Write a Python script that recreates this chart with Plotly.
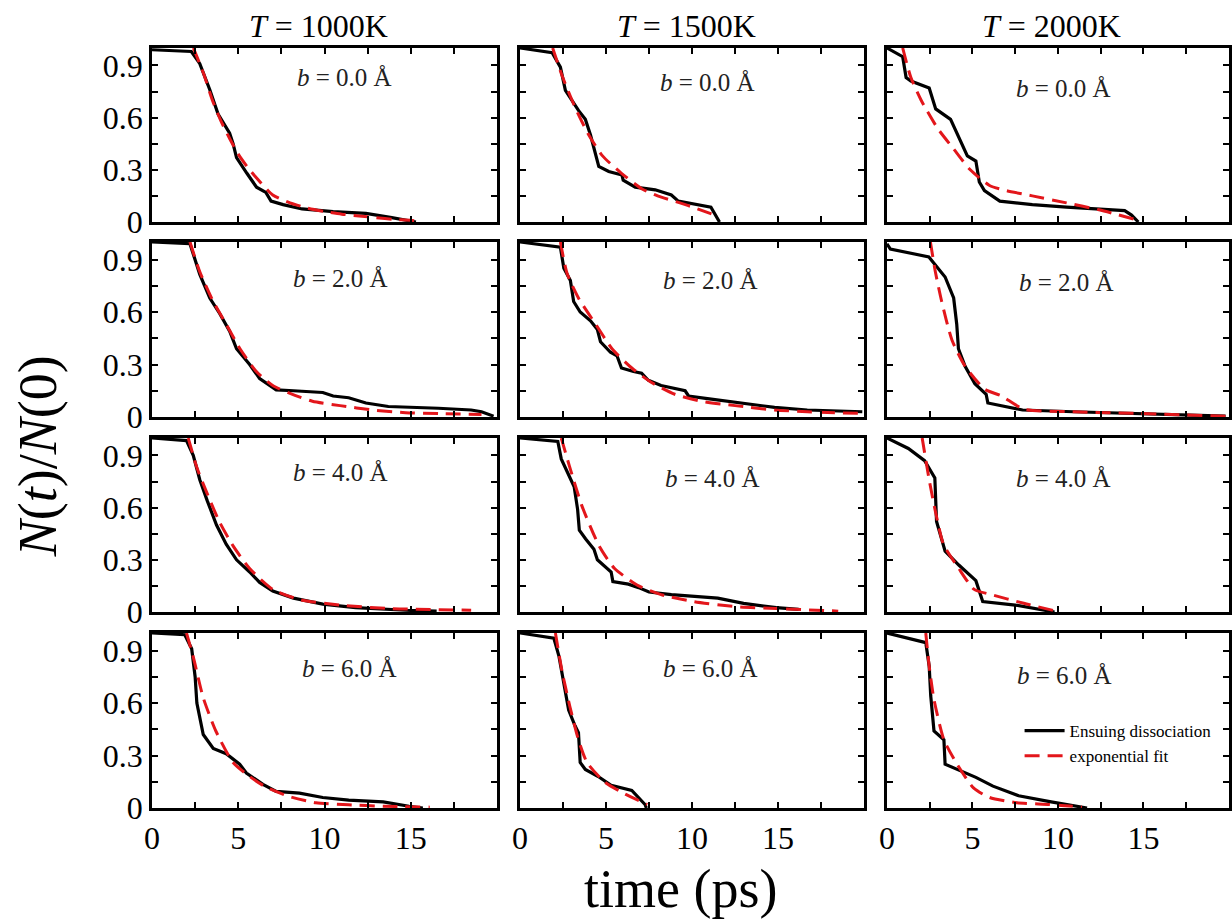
import plotly.graph_objects as go

# ---------------- data ----------------
temperatures = ["1000K", "1500K", "2000K"]
b_labels = ["0.0", "2.0", "4.0", "6.0"]

# T = 1000K
t_1000_b0 = [0, 2.28, 2.77, 3.35, 3.83, 4.5, 4.7, 4.9, 5.5, 6.06, 6.6, 6.9, 7.6, 8.7, 10.5, 12.4, 13.9, 15.1, 15.3]
n_1000_b0 = [0.99, 0.98, 0.91, 0.76, 0.62, 0.51, 0.45, 0.37, 0.28, 0.20, 0.17, 0.12, 0.10, 0.075, 0.06, 0.05, 0.025, 0.005, 0.0]
ft_1000_b0 = [2.4, 3.0, 3.5, 4.0, 4.5, 5.0, 5.5, 6.0, 7.0, 8.0, 9.0, 10, 11, 12, 13, 14, 15, 15.4]
fn_1000_b0 = [1.0, 0.85, 0.70, 0.58, 0.48, 0.39, 0.32, 0.26, 0.155, 0.11, 0.08, 0.06, 0.045, 0.035, 0.025, 0.015, 0.01, 0.005]

t_1000_b2 = [0.0, 2.2, 2.77, 3.35, 3.93, 4.5, 4.9, 5.66, 6.24, 7.2, 8.2, 9.9, 10.5, 11.4, 12.4, 13.7, 16.6, 18.5, 19.1, 19.8]
n_1000_b2 = [1.0, 0.99, 0.815, 0.68, 0.59, 0.49, 0.39, 0.30, 0.22, 0.155, 0.15, 0.14, 0.12, 0.11, 0.08, 0.06, 0.05, 0.04, 0.03, 0.005]
ft_1000_b2 = [2.2, 2.77, 3.55, 4.3, 5.1, 6.05, 7.0, 8.0, 9.3, 10.9, 12.8, 14.7, 16.6, 19.1]
fn_1000_b2 = [1.0, 0.83, 0.66, 0.53, 0.39, 0.26, 0.18, 0.135, 0.09, 0.065, 0.04, 0.025, 0.02, 0.015]

t_1000_b4 = [0, 2.0, 2.39, 2.77, 3.2, 3.74, 4.3, 4.9, 5.66, 6.24, 7.0, 8.2, 9.9, 11.8, 14.7, 16.5]
n_1000_b4 = [1.0, 0.985, 0.90, 0.76, 0.64, 0.50, 0.39, 0.30, 0.23, 0.17, 0.12, 0.08, 0.045, 0.025, 0.01, 0.005]
ft_1000_b4 = [2.1, 2.6, 3.2, 3.9, 4.7, 5.66, 7.0, 8.6, 10.9, 13.7, 18.5]
fn_1000_b4 = [1.0, 0.83, 0.68, 0.52, 0.38, 0.25, 0.13, 0.07, 0.04, 0.02, 0.01]

t_1000_b6 = [0, 1.9, 2.3, 2.5, 2.6, 2.97, 3.55, 4.3, 5.08, 5.47, 6.43, 7.2, 8.55, 9.9, 11.4, 13.4, 14.9, 15.7]
n_1000_b6 = [1.0, 0.99, 0.91, 0.75, 0.60, 0.42, 0.34, 0.31, 0.25, 0.20, 0.135, 0.095, 0.085, 0.06, 0.045, 0.035, 0.01, 0.0]
ft_1000_b6 = [2.0, 2.4, 2.97, 3.7, 4.7, 5.66, 6.6, 7.98, 9.5, 11.4, 13.4, 16.1]
fn_1000_b6 = [1.0, 0.86, 0.63, 0.44, 0.26, 0.18, 0.12, 0.065, 0.03, 0.018, 0.01, 0.005]

# T = 1500K
t_1500_b0 = [0, 1.87, 2.35, 2.64, 3.41, 3.8, 4.1, 4.39, 4.58, 5.16, 5.93, 6.0, 6.7, 7.86, 8.8, 9.2, 10.35, 11.1, 11.6]
n_1500_b0 = [1.0, 0.973, 0.89, 0.757, 0.64, 0.59, 0.50, 0.40, 0.32, 0.29, 0.27, 0.24, 0.20, 0.185, 0.155, 0.12, 0.10, 0.085, 0.0]
ft_1500_b0 = [1.9, 2.45, 3.2, 4.0, 4.8, 5.9, 7.1, 8.0, 9.3, 10.2, 11.3]
fn_1500_b0 = [1.0, 0.84, 0.66, 0.50, 0.38, 0.28, 0.19, 0.15, 0.11, 0.08, 0.04]

t_1500_b2 = [0.0, 2.35, 2.55, 2.93, 3.12, 3.5, 4.1, 4.5, 4.68, 5.26, 5.64, 5.9, 6.6, 7.07, 7.46, 8.2, 9.6, 9.8, 10.9, 12.85, 14.8, 16.7, 18.6, 19.9]
n_1500_b2 = [1.0, 0.97, 0.85, 0.78, 0.66, 0.60, 0.55, 0.50, 0.43, 0.37, 0.35, 0.28, 0.26, 0.25, 0.21, 0.18, 0.15, 0.12, 0.105, 0.08, 0.055, 0.04, 0.035, 0.03]
ft_1500_b2 = [2.35, 2.74, 3.4, 4.4, 5.35, 6.5, 7.6, 9.0, 10.55, 12.5, 14.8, 16.7, 19.9]
fn_1500_b2 = [1.0, 0.82, 0.68, 0.53, 0.39, 0.28, 0.20, 0.13, 0.09, 0.065, 0.04, 0.03, 0.02]

t_1500_b4 = [0, 2.2, 2.4, 2.77, 3.15, 3.35, 3.45, 3.82, 4.3, 4.5, 5.1, 5.3, 5.4, 6.3, 6.9, 7.5, 8.8, 11.5, 13.0, 14.9, 16.2]
n_1500_b4 = [1.0, 0.98, 0.88, 0.80, 0.72, 0.59, 0.47, 0.42, 0.36, 0.30, 0.25, 0.23, 0.175, 0.16, 0.14, 0.115, 0.10, 0.08, 0.05, 0.025, 0.015]
ft_1500_b4 = [2.4, 2.87, 3.6, 4.6, 5.5, 6.9, 8.2, 10.1, 12.6, 14.9, 18.5]
fn_1500_b4 = [1.0, 0.84, 0.61, 0.38, 0.25, 0.15, 0.10, 0.06, 0.03, 0.02, 0.005]

t_1500_b6 = [0, 1.97, 2.26, 2.55, 2.83, 3.2, 3.4, 3.5, 3.8, 4.55, 5.3, 6.5, 7.27, 7.35]
n_1500_b6 = [1.0, 0.97, 0.87, 0.71, 0.56, 0.47, 0.43, 0.26, 0.22, 0.18, 0.13, 0.10, 0.02, 0.0]
ft_1500_b6 = [2.06, 2.45, 2.9, 3.4, 3.9, 4.9, 6.1, 7.4]
fn_1500_b6 = [1.0, 0.78, 0.58, 0.39, 0.26, 0.15, 0.08, 0.02]

# T = 2000K
t_2000_b0 = [0, 0.92, 1.12, 1.4, 2.47, 2.85, 3.72, 4.2, 4.7, 5.2, 5.3, 5.4, 5.7, 6.6, 8.5, 10.5, 13.9, 14.3, 14.7]
n_2000_b0 = [1.0, 0.95, 0.83, 0.81, 0.77, 0.65, 0.59, 0.49, 0.38, 0.35, 0.30, 0.23, 0.18, 0.12, 0.10, 0.085, 0.065, 0.04, 0.0]
ft_2000_b0 = [0.92, 1.4, 2.0, 2.95, 3.9, 4.87, 6.0, 7.0, 8.5, 10.5, 12.4, 14.7]
fn_2000_b0 = [1.0, 0.83, 0.70, 0.54, 0.42, 0.30, 0.21, 0.18, 0.15, 0.11, 0.07, 0.01]

t_2000_b2 = [0.0, 0.2, 2.45, 2.83, 3.4, 3.9, 4.08, 4.18, 4.57, 5.14, 5.8, 5.9, 7.93, 10.9, 14.8, 19.8]
n_2000_b2 = [0.99, 0.96, 0.915, 0.87, 0.80, 0.68, 0.53, 0.39, 0.29, 0.19, 0.13, 0.08, 0.04, 0.03, 0.02, 0.005]
ft_2000_b2 = [2.54, 2.83, 3.2, 3.8, 4.57, 5.7, 6.7, 8.0, 10.9, 14.8, 19.8]
fn_2000_b2 = [1.0, 0.83, 0.66, 0.44, 0.29, 0.16, 0.12, 0.045, 0.03, 0.02, 0.005]

t_2000_b4 = [0, 1.25, 2.2, 2.8, 2.9, 3.4, 4.2, 5.2, 5.6, 7.5, 9.8]
n_2000_b4 = [1.0, 0.94, 0.87, 0.77, 0.52, 0.35, 0.27, 0.18, 0.06, 0.04, 0.0]
ft_2000_b4 = [2.06, 2.45, 2.83, 3.3, 4.2, 5.1, 6.1, 8.0, 9.9]
fn_2000_b4 = [1.0, 0.77, 0.58, 0.39, 0.25, 0.13, 0.10, 0.05, 0.005]

t_2000_b6 = [0, 2.27, 2.47, 2.56, 2.75, 3.33, 3.4, 4.65, 5.2, 6.2, 7.7, 9.6, 11.7]
n_2000_b6 = [1.0, 0.945, 0.81, 0.64, 0.44, 0.39, 0.25, 0.20, 0.175, 0.125, 0.07, 0.035, 0.0]
ft_2000_b6 = [2.27, 2.47, 2.75, 3.33, 4.1, 5.06, 6.0, 7.6, 9.5, 11.4]
fn_2000_b6 = [1.0, 0.81, 0.62, 0.39, 0.25, 0.115, 0.06, 0.03, 0.02, 0.005]

# panel grid: rows = impact parameter b, cols = temperature
sim_t = [[t_1000_b0, t_1500_b0, t_2000_b0],
         [t_1000_b2, t_1500_b2, t_2000_b2],
         [t_1000_b4, t_1500_b4, t_2000_b4],
         [t_1000_b6, t_1500_b6, t_2000_b6]]
sim_n = [[n_1000_b0, n_1500_b0, n_2000_b0],
         [n_1000_b2, n_1500_b2, n_2000_b2],
         [n_1000_b4, n_1500_b4, n_2000_b4],
         [n_1000_b6, n_1500_b6, n_2000_b6]]
fit_t = [[ft_1000_b0, ft_1500_b0, ft_2000_b0],
         [ft_1000_b2, ft_1500_b2, ft_2000_b2],
         [ft_1000_b4, ft_1500_b4, ft_2000_b4],
         [ft_1000_b6, ft_1500_b6, ft_2000_b6]]
fit_n = [[fn_1000_b0, fn_1500_b0, fn_2000_b0],
         [fn_1000_b2, fn_1500_b2, fn_2000_b2],
         [fn_1000_b4, fn_1500_b4, fn_2000_b4],
         [fn_1000_b6, fn_1500_b6, fn_2000_b6]]

x_ticks = [0, 5, 10, 15]
y_ticks = [0, 0.3, 0.6, 0.9]
y_ticktext = ["0", "0.3", "0.6", "0.9"]

# ---------------- layout ----------------
W, H = 1232, 921
ML, MR, MT, MB = 152, 0, 48, 113
PW, PH = W - ML - MR, H - MT - MB

col_px = [(0, 346), (369, 714), (737, 1080)]
row_px = [(0, 174), (194, 369), (390, 564), (585, 760)]
col_dom = [[a / PW, b / PW] for a, b in col_px]
row_dom = [[1 - b / PH, 1 - a / PH] for a, b in row_px]

# label positions (data coords) for the "b = ..." annotations
lab_x = [[11.15, 10.9, 10.35], [10.95, 11.1, 10.5], [10.9, 11.2, 10.3], [11.45, 11.1, 10.4]]
lab_y = [[0.83, 0.80, 0.77], [0.79, 0.78, 0.77], [0.80, 0.77, 0.77], [0.80, 0.80, 0.76]]

SERIF = "Liberation Serif"
BLACK = "#000000"
RED = "#e3161b"

fig = go.Figure()
layout = dict(
    width=W, height=H,
    margin=dict(l=ML, r=MR, t=MT, b=MB),
    paper_bgcolor="white", plot_bgcolor="white",
    font=dict(family=SERIF, color="black"),
    showlegend=True,
    legend=dict(x=(1022 - ML) / PW, y=(808 - 713) / PH, xanchor="left", yanchor="top",
                bgcolor="rgba(0,0,0,0)", font=dict(family=SERIF, size=17, color="black"),
                tracegroupgap=0, itemwidth=40),
)
annotations = []

for r in range(4):
    for c in range(3):
        k = r * 3 + c + 1
        xa = "x" if k == 1 else f"x{k}"
        ya = "y" if k == 1 else f"y{k}"
        first = (r == 3 and c == 2)
        fig.add_trace(go.Scatter(
            x=sim_t[r][c], y=sim_n[r][c], mode="lines",
            line=dict(color=BLACK, width=3.2),
            name="Ensuing dissociation", showlegend=first, legendrank=1,
            xaxis=xa, yaxis=ya))
        fig.add_trace(go.Scatter(
            x=fit_t[r][c], y=fit_n[r][c], mode="lines",
            line=dict(color=RED, width=3, dash="15px,8px", shape="spline", smoothing=0.6),
            name="exponential fit", showlegend=first, legendrank=2,
            xaxis=xa, yaxis=ya))

        axkw = dict(showline=True, linewidth=2.5, linecolor="black", mirror="ticks",
                    showgrid=False, zeroline=False, ticks="inside", ticklen=6,
                    tickwidth=1.8, tickcolor="black",
                    tickfont=dict(family=SERIF, size=32, color="black"))
        xname = "xaxis" if k == 1 else f"xaxis{k}"
        yname = "yaxis" if k == 1 else f"yaxis{k}"
        layout[xname] = dict(axkw, domain=col_dom[c], anchor=ya, range=[0, 20],
                             tickmode="array", tickvals=x_ticks,
                             showticklabels=(r == 3),
                             minor=dict(dtick=2.5, tick0=0, ticks="inside", ticklen=6,
                                        tickwidth=1.8, tickcolor="black"))
        layout[yname] = dict(axkw, domain=row_dom[r], anchor=xa, range=[0, 1.0],
                             tickmode="array", tickvals=y_ticks, ticktext=y_ticktext,
                             showticklabels=(c == 0),
                             minor=dict(dtick=0.15, tick0=0, ticks="inside", ticklen=6,
                                        tickwidth=1.8, tickcolor="black"))
        annotations.append(dict(
            x=lab_x[r][c], y=lab_y[r][c], xref=xa, yref=ya,
            text=f"<i>b</i> = {b_labels[r]} Å", showarrow=False,
            xanchor="center", yanchor="middle",
            font=dict(family=SERIF, size=25, color="#222222")))

# column titles
for c in range(3):
    annotations.append(dict(
        x=(col_dom[c][0] + col_dom[c][1]) / 2 - 6 / PW, y=1.0, xref="paper", yref="paper",
        xanchor="center", yanchor="bottom", yshift=2, showarrow=False,
        text=f"<i>T</i> = {temperatures[c]}",
        font=dict(family=SERIF, size=32, color="black")))

# axis titles
annotations.append(dict(
    x=(38 - ML) / PW, y=(808 - 456) / PH, xref="paper", yref="paper",
    text="<i>N</i>(<i>t</i>)/<i>N</i>(0)", textangle=-90, showarrow=False,
    xanchor="center", yanchor="middle",
    font=dict(family=SERIF, size=54, color="black")))
annotations.append(dict(
    x=(682 - ML) / PW, y=(808 - 889) / PH, xref="paper", yref="paper",
    text="time (ps)", showarrow=False, xanchor="center", yanchor="middle",
    font=dict(family=SERIF, size=54, color="black")))

layout["annotations"] = annotations
fig.update_layout(**layout)
fig.write_html("out.html")
